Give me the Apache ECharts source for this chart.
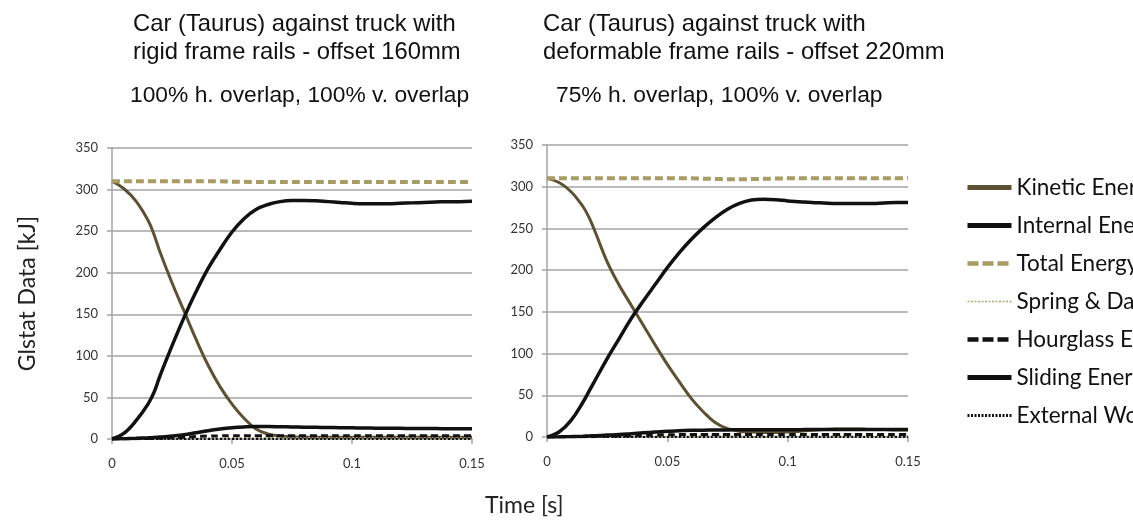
<!DOCTYPE html>
<html>
<head>
<meta charset="utf-8">
<script src="https://cdn.jsdelivr.net/npm/echarts@6/dist/echarts.min.js"></script>
<style>
  html, body { margin: 0; padding: 0; background: #ffffff; }
  #chart { width: 1133px; height: 522px; }
</style>
</head>
<body>
<div id="chart"></div>
<script>
// Sample times [s]
const times = [0, 0.005, 0.01, 0.015, 0.0175, 0.02, 0.025, 0.03, 0.035, 0.04, 0.045, 0.05, 0.055, 0.06, 0.065, 0.07,
  0.075, 0.08, 0.085, 0.09, 0.095, 0.1, 0.105, 0.11, 0.115, 0.12, 0.125, 0.13, 0.135, 0.14, 0.145, 0.15];

const seriesNames = ['Kinetic Energy', 'Internal Energy', 'Total Energy', 'Spring & Damper Energy',
  'Hourglass Energy', 'Sliding Energy', 'External Work'];

// Rigid frame rails, offset 160mm  [kJ]
const kineticRigid = [310, 301, 286, 263, 246, 225, 188, 154, 120, 89, 63, 42, 25, 12, 6, 3.5,
  2.5, 2, 2, 2, 2, 2, 2, 2, 2, 2, 2, 2, 2, 2, 2, 2];
const internalRigid = [0, 7, 22, 42, 56, 76, 112, 146, 177, 205, 228, 249, 265, 276, 282, 285.5,
  287, 287, 286.5, 285.5, 284.5, 283.5, 283, 283, 283, 283.5, 284, 284.5, 285, 285.5, 285.5, 286];
const totalRigid = [310, 310, 310, 310, 310, 310, 310, 310, 310, 310, 310, 309.5, 309.5, 309, 309, 309,
  309, 309, 309, 309, 309, 309, 309, 309, 309, 309, 309, 309, 309, 309, 309, 309];
const springRigid = [0, 0, 0.1, 0.2, 0.2, 0.3, 0.5, 0.7, 0.9, 1.1, 1.3, 1.4, 1.5, 1.5, 1.5, 1.5,
  1.5, 1.5, 1.5, 1.5, 1.5, 1.5, 1.5, 1.5, 1.5, 1.5, 1.5, 1.5, 1.5, 1.5, 1.5, 1.5];
const hourglassRigid = [0, 0.2, 0.4, 0.6, 0.7, 0.9, 1.4, 2.2, 3, 3.5, 3.8, 4, 4, 4, 4, 4,
  4, 4, 4, 4, 4, 4, 4, 4, 4, 4, 4, 4, 4, 4, 4, 4];
const slidingRigid = [0, 0.3, 0.8, 1.4, 1.8, 2.3, 3.5, 5, 7.5, 10, 12, 13.5, 14.5, 15, 15, 14.8,
  14.5, 14.2, 14, 13.8, 13.6, 13.4, 13.2, 13, 12.9, 12.8, 12.7, 12.6, 12.5, 12.4, 12.3, 12.2];
const externalRigid = [0, 0, 0, 0, 0, 0, 0, 0, 0, 0, 0, 0, 0, 0, 0, 0,
  0, 0, 0, 0, 0, 0, 0, 0, 0, 0, 0, 0, 0, 0, 0, 0];

// Deformable frame rails, offset 220mm  [kJ]
const kineticDeform = [310, 305, 294, 276, 263, 246, 210, 182, 158, 134, 110, 87, 66, 46, 30, 17,
  10, 7, 6, 5.5, 5.5, 6, 7, 8, 9, 9.5, 9.5, 9.5, 9, 9, 8.5, 8.5];
const internalDeform = [0, 6, 20, 42, 55, 68, 94, 118, 142, 163, 183, 203, 221, 237, 251, 263,
  273, 280, 284, 285, 284.5, 283, 282, 281, 280.5, 280, 280, 280, 280, 280.5, 281, 281];
const totalDeform = [310, 310, 310, 310, 310, 310, 310, 310, 310, 310, 310, 310, 310, 310, 309.6, 309.3,
  309, 309, 309.2, 309.5, 309.7, 310, 310, 310, 310, 310, 310, 310, 310, 310, 310, 310];
const springDeform = [0, 0, 0.1, 0.1, 0.2, 0.2, 0.3, 0.4, 0.5, 0.7, 0.8, 1, 1, 1, 1, 1,
  1, 1, 1, 1, 1, 1, 1, 1, 1, 1, 1, 1, 1, 1, 1, 1];
const hourglassDeform = [0, 0.1, 0.2, 0.3, 0.4, 0.5, 0.8, 1.1, 1.5, 2, 2.4, 2.7, 2.9, 3, 3, 3,
  3, 3, 3, 3, 3, 3, 3, 3, 3, 3, 3, 3, 3, 3, 3, 3];
const slidingDeform = [0, 0.2, 0.5, 1, 1.3, 1.6, 2.3, 3, 4, 5, 6, 7, 7.5, 8, 8.2, 8.4,
  8.5, 8.6, 8.6, 8.6, 8.7, 8.8, 8.8, 8.9, 8.9, 9, 9, 9, 9, 9, 9, 9];
const externalDeform = [0, 0, 0, 0, 0, 0, 0, 0, 0, 0, 0, 0, 0, 0, 0, 0,
  0, 0, 0, 0, 0, 0, 0, 0, 0, 0, 0, 0, 0, 0, 0, 0];

const xTickLabels = ['0', '0.05', '0.1', '0.15'];

const titleLeft = 'Car (Taurus) against truck with\nrigid frame rails - offset 160mm';
const subtitleLeft = '100% h. overlap, 100% v. overlap';
const titleRight = 'Car (Taurus) against truck with\ndeformable frame rails - offset 220mm';
const subtitleRight = '75% h. overlap, 100% v. overlap';
const yAxisName = 'Glstat Data [kJ]';
const xAxisName = 'Time [s]';

// line appearance per energy quantity
const styles = [
  { color: '#5c5233', width: 3, type: 'solid', legendWidth: 5 },
  { color: '#111111', width: 3.5, type: 'solid', legendWidth: 5 },
  { color: '#a89b63', width: 4, type: [8, 4], legendWidth: 4.5, legendType: [11, 4] },
  { color: '#b3a671', width: 1.5, type: [2, 2], legendWidth: 1.5, legendType: [2, 1.5] },
  { color: '#111111', width: 3, type: [7, 4], legendWidth: 4.5, legendType: [11, 4] },
  { color: '#111111', width: 3.5, type: 'solid', legendWidth: 5 },
  { color: '#111111', width: 2, type: [2, 2], legendWidth: 3, legendType: [2, 1.5] }
];

const rigidSets = [kineticRigid, internalRigid, totalRigid, springRigid, hourglassRigid, slidingRigid, externalRigid];
const deformSets = [kineticDeform, internalDeform, totalDeform, springDeform, hourglassDeform, slidingDeform, externalDeform];

function pairs(values) {
  return times.map((t, i) => [t, values[i]]);
}

function buildSeries(sets, axisIndex) {
  return sets.map((vals, k) => ({
    name: seriesNames[k],
    type: 'line',
    xAxisIndex: axisIndex,
    yAxisIndex: axisIndex,
    data: pairs(vals),
    symbol: 'none',
    showSymbol: false,
    smooth: 0.4,
    lineStyle: { color: styles[k].color, width: styles[k].width, type: styles[k].type, cap: 'butt' },
    itemStyle: { color: styles[k].color },
    animation: false
  }));
}

const labelFont = 'Lato, "Open Sans", sans-serif';
const gridColor = '#a3a3a3';

function makeXAxis(gridIndex) {
  return {
    type: 'value', gridIndex: gridIndex, min: 0, max: 0.15, interval: 0.05,
    axisLine: { show: true, onZero: false, lineStyle: { color: gridColor, width: 1.5 } },
    axisTick: { show: true, length: 5, lineStyle: { color: gridColor, width: 1.5 } },
    splitLine: { show: false },
    axisLabel: {
      margin: 18, fontSize: 13, color: '#333', fontFamily: labelFont,
      formatter: (v) => xTickLabels[Math.round(v / 0.05)]
    }
  };
}

function makeYAxis(gridIndex, withName) {
  const ax = {
    type: 'value', gridIndex: gridIndex, min: 0, max: 350, interval: 50,
    axisLine: { show: true, lineStyle: { color: gridColor, width: 1.5 } },
    axisTick: { show: true, length: 5, lineStyle: { color: gridColor, width: 1.5 } },
    splitLine: { show: true, lineStyle: { color: gridColor, width: 1.5 } },
    axisLabel: { margin: 14, fontSize: 13, color: '#333', fontFamily: labelFont }
  };
  if (withName) {
    ax.name = yAxisName;
    ax.nameLocation = 'middle';
    ax.nameGap = 73;
    ax.nameTextStyle = { fontSize: 23, color: '#222', fontFamily: labelFont };
  }
  return ax;
}

const titleStyle = { fontSize: 23.8, fontWeight: 'normal', color: '#111', lineHeight: 28,
  fontFamily: '"Liberation Sans", Arial, sans-serif' };
const subtitleStyle = { fontSize: 22.8, fontWeight: 'normal', color: '#111', lineHeight: 28,
  fontFamily: '"Liberation Sans", Arial, sans-serif' };

const option = {
  backgroundColor: '#ffffff',
  animation: false,
  title: [
    { text: titleLeft, left: 133, top: 10, padding: 0, textStyle: titleStyle },
    { text: subtitleLeft, left: 130, top: 82, padding: 0, textStyle: subtitleStyle },
    { text: titleRight, left: 543, top: 10, padding: 0, textStyle: titleStyle },
    { text: subtitleRight, left: 556, top: 82, padding: 0, textStyle: subtitleStyle }
  ],
  legend: {
    orient: 'vertical', left: 965, top: 176, padding: 0,
    itemWidth: 44, itemHeight: 14, itemGap: 15,
    textStyle: { fontSize: 22.5, color: '#111', fontFamily: labelFont, lineHeight: 23 },
    data: seriesNames.map((n, k) => ({
      name: n,
      lineStyle: { color: styles[k].color, width: styles[k].legendWidth, type: styles[k].legendType || styles[k].type, cap: 'butt' },
      itemStyle: { opacity: 0, borderWidth: 0 }
    }))
  },
  grid: [
    { left: 112, top: 148, width: 360, height: 291, containLabel: false },
    { left: 547, top: 145, width: 361, height: 292, containLabel: false }
  ],
  xAxis: [makeXAxis(0), makeXAxis(1)],
  yAxis: [makeYAxis(0, true), makeYAxis(1, false)],
  graphic: [
    { type: 'text', left: 485, top: 494,
      style: { text: xAxisName, fontSize: 23, fill: '#222', fontFamily: labelFont } }
  ],
  series: buildSeries(rigidSets, 0).concat(buildSeries(deformSets, 1))
};

const chart = echarts.init(document.getElementById('chart'), null, { renderer: 'canvas' });
chart.setOption(option);
</script>
</body>
</html>
